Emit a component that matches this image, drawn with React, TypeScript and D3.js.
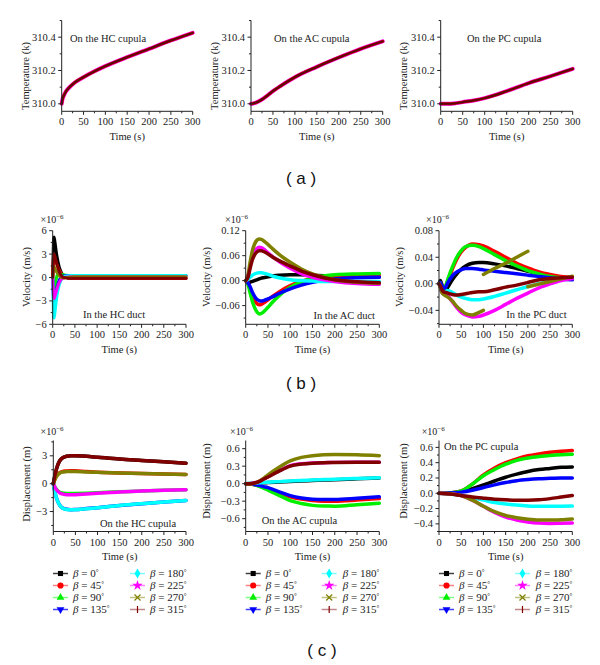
import React from 'react';
import * as d3 from 'd3';

// ---------- DATA ----------
const ANGLES = ['0', '45', '90', '135', '180', '225', '270', '315'];
const COLORS = ['#000000', '#ff0000', '#00ee00', '#0000ff', '#00ffff', '#ff00ff', '#808000', '#800000'];
const LEGEND_LINE = ['#404040', '#ff8080', '#80ff80', '#4040ff', '#80ffff', '#ff80ff', '#c0c080', '#c08888'];
const X_TICKS = [0, 50, 100, 150, 200, 250, 300];
const X_MINOR = [25, 75, 125, 175, 225, 275];

// (a) temperature
const tA = [0, 2, 5, 10, 20, 30, 50, 75, 100, 150, 200, 250, 300];
const tempHC = [310.0, 310.03, 310.05, 310.075, 310.105, 310.128, 310.16, 310.195, 310.226, 310.28, 310.33, 310.38, 310.426];
const tempAC = [310.0, 310.0, 310.002, 310.006, 310.018, 310.035, 310.076, 310.12, 310.16, 310.222, 310.278, 310.33, 310.375];
const tempPC = [310.0, 310.0, 310.0, 310.0, 310.0, 310.002, 310.01, 310.02, 310.034, 310.076, 310.124, 310.166, 310.21];

// (b) velocity, x1e-6
const tB1 = [0, 1, 2, 3, 5, 8, 10, 15, 20, 25, 30, 40, 50, 100, 200, 300];
const hcDuct = [
  [0, 3, 5.0, 5.2, 4.6, 3.3, 2.6, 1.3, 0.6, 0.2, 0.0, -0.1, -0.1, -0.1, -0.1, -0.1],
  [0, 1.5, 2.5, 2.6, 2.4, 1.9, 1.6, 0.9, 0.45, 0.15, 0.0, -0.08, -0.1, -0.1, -0.1, -0.1],
  [0, -0.8, -1.3, -1.4, -1.0, -0.2, 0.3, 0.45, 0.4, 0.35, 0.3, 0.25, 0.25, 0.25, 0.25, 0.25],
  [0, -1.8, -2.8, -3.0, -2.6, -1.7, -1.2, -0.3, 0.1, 0.2, 0.25, 0.25, 0.25, 0.25, 0.25, 0.25],
  [0, -3, -5.0, -5.2, -4.5, -3.0, -2.2, -0.9, -0.2, 0.1, 0.2, 0.25, 0.25, 0.25, 0.25, 0.25],
  [0, -1.5, -2.5, -2.7, -2.4, -1.8, -1.4, -0.6, -0.2, 0.0, 0.05, 0.1, 0.1, 0.1, 0.1, 0.1],
  [0, 0.8, 1.3, 1.4, 1.2, 0.8, 0.6, 0.2, 0.0, -0.05, 0.0, 0.05, 0.1, 0.1, 0.1, 0.1],
  [0, 1.8, 2.9, 3.0, 2.7, 2.0, 1.6, 0.7, 0.2, 0.0, -0.05, -0.1, -0.1, -0.1, -0.1, -0.1],
];
const tB2 = [0, 5, 10, 15, 20, 25, 30, 35, 40, 50, 60, 75, 100, 125, 150, 175, 200, 250, 300];
const acDuct = [
  [0, -0.005, -0.004, -0.002, 0, 0.002, 0.004, 0.006, 0.007, 0.009, 0.011, 0.013, 0.014, 0.014, 0.013, 0.012, 0.011, 0.01, 0.009],
  [0, -0.005, -0.02, -0.035, -0.047, -0.055, -0.058, -0.057, -0.054, -0.046, -0.038, -0.027, -0.012, -0.002, 0.005, 0.009, 0.012, 0.014, 0.015],
  [0, -0.008, -0.03, -0.05, -0.065, -0.075, -0.08, -0.079, -0.075, -0.064, -0.052, -0.036, -0.016, -0.003, 0.006, 0.011, 0.014, 0.016, 0.017],
  [0, -0.005, -0.015, -0.028, -0.038, -0.045, -0.048, -0.049, -0.048, -0.044, -0.039, -0.031, -0.02, -0.011, -0.004, 0.001, 0.004, 0.007, 0.008],
  [0, 0.003, 0.008, 0.013, 0.016, 0.018, 0.019, 0.019, 0.018, 0.015, 0.011, 0.007, 0.002, 0.0, -0.001, -0.002, -0.002, -0.002, -0.002],
  [0, 0.01, 0.035, 0.057, 0.07, 0.077, 0.08, 0.079, 0.076, 0.067, 0.058, 0.046, 0.03, 0.017, 0.008, 0.002, -0.002, -0.007, -0.009],
  [0, 0.012, 0.045, 0.072, 0.088, 0.097, 0.1, 0.099, 0.096, 0.087, 0.077, 0.063, 0.044, 0.028, 0.016, 0.008, 0.002, -0.004, -0.006],
  [0, 0.008, 0.03, 0.05, 0.062, 0.069, 0.072, 0.072, 0.07, 0.064, 0.057, 0.048, 0.035, 0.023, 0.014, 0.007, 0.002, -0.003, -0.005],
];
const tB3 = [0, 3, 6, 10, 15, 20, 30, 40, 50, 60, 75, 90, 100, 125, 150, 175, 200, 225, 250, 275, 300];
const pcDuct = [
  [0, 0.005, 0.0, -0.008, -0.01, -0.005, 0.006, 0.015, 0.022, 0.027, 0.031, 0.032, 0.032, 0.03, 0.027, 0.023, 0.019, 0.015, 0.012, 0.01, 0.008],
  [0, 0.002, -0.003, -0.008, -0.004, 0.005, 0.022, 0.037, 0.048, 0.055, 0.06, 0.059, 0.057, 0.049, 0.04, 0.031, 0.024, 0.018, 0.014, 0.011, 0.01],
  [0, 0.002, -0.003, -0.008, -0.003, 0.007, 0.025, 0.04, 0.05, 0.056, 0.058, 0.056, 0.053, 0.044, 0.035, 0.027, 0.02, 0.015, 0.011, 0.009, 0.008],
  [0, 0.002, -0.002, -0.008, -0.005, 0.002, 0.012, 0.018, 0.021, 0.023, 0.023, 0.022, 0.021, 0.019, 0.017, 0.015, 0.013, 0.011, 0.009, 0.007, 0.006],
  [0, -0.005, -0.012, -0.015, -0.012, -0.01, -0.013, -0.017, -0.02, -0.022, -0.024, -0.024, -0.023, -0.019, -0.014, -0.009, -0.004, 0.0, 0.004, 0.007, 0.009],
  [0, -0.005, -0.012, -0.015, -0.015, -0.018, -0.027, -0.036, -0.043, -0.047, -0.05, -0.049, -0.047, -0.04, -0.031, -0.022, -0.014, -0.006, 0.0, 0.005, 0.008],
  null,
  [0, -0.003, -0.008, -0.012, -0.013, -0.014, -0.016, -0.017, -0.016, -0.015, -0.013, -0.012, -0.012, -0.009, -0.005, -0.002, 0.002, 0.006, 0.008, 0.009, 0.01],
];
// the 270° curve in the PC duct is broken into three pieces
const tB3olive = [0, 3, 6, 10, 15, 20, 30, 40, 50, 60, 75, 90, 100, null, 100, 125, 150, 175, 200, null, 200, 225, 250, 275, 300];
const pcDuctOlive = [0, -0.005, -0.012, -0.016, -0.018, -0.02, -0.026, -0.034, -0.04, -0.045, -0.047, -0.043, -0.04, null, 0.014, 0.023, 0.031, 0.04, 0.049, null, -0.0045, -0.0005, 0.0035, 0.0075, 0.0115];

// (c) displacement, x1e-6
const tC1 = [0, 5, 10, 15, 20, 30, 40, 50, 75, 100, 150, 200, 250, 300];
const hcCup = [
  [0, 1.2, 2.0, 2.5, 2.75, 2.95, 3.0, 3.0, 2.95, 2.85, 2.65, 2.5, 2.35, 2.2],
  [0, 0.65, 1.0, 1.2, 1.3, 1.37, 1.4, 1.38, 1.3, 1.24, 1.15, 1.1, 1.05, 1.0],
  [0, -0.45, -0.75, -0.92, -1.0, -1.05, -1.06, -1.05, -1.02, -0.98, -0.88, -0.8, -0.72, -0.65],
  [0, -1.2, -1.9, -2.35, -2.6, -2.76, -2.8, -2.78, -2.68, -2.58, -2.35, -2.15, -1.97, -1.8],
  [0, -1.2, -1.9, -2.35, -2.6, -2.78, -2.82, -2.8, -2.7, -2.6, -2.35, -2.15, -1.97, -1.8],
  [0, -0.5, -0.8, -1.0, -1.1, -1.18, -1.2, -1.18, -1.1, -1.02, -0.9, -0.8, -0.72, -0.65],
  [0, 0.6, 0.95, 1.15, 1.25, 1.3, 1.32, 1.3, 1.27, 1.23, 1.15, 1.1, 1.05, 1.0],
  [0, 1.2, 2.0, 2.5, 2.75, 2.95, 3.0, 3.0, 2.95, 2.85, 2.65, 2.5, 2.35, 2.2],
];
const tC2 = [0, 10, 20, 30, 40, 50, 75, 100, 125, 150, 175, 200, 250, 300];
const acCup = [
  [0, 0.002, 0.006, 0.01, 0.014, 0.018, 0.027, 0.036, 0.045, 0.053, 0.061, 0.069, 0.083, 0.096],
  [0, -0.005, -0.018, -0.038, -0.06, -0.085, -0.16, -0.225, -0.265, -0.29, -0.3, -0.3, -0.28, -0.255],
  [0, -0.005, -0.02, -0.045, -0.075, -0.11, -0.2, -0.29, -0.34, -0.372, -0.384, -0.385, -0.36, -0.334],
  [0, -0.005, -0.015, -0.03, -0.05, -0.068, -0.14, -0.205, -0.245, -0.266, -0.27, -0.27, -0.25, -0.226],
  [0, 0.005, 0.01, 0.015, 0.02, 0.025, 0.035, 0.045, 0.055, 0.063, 0.07, 0.077, 0.089, 0.1],
  [0, 0.0, 0.015, 0.04, 0.08, 0.12, 0.22, 0.31, 0.34, 0.355, 0.36, 0.365, 0.367, 0.367],
  [0, -0.01, 0.01, 0.04, 0.09, 0.15, 0.28, 0.39, 0.45, 0.48, 0.495, 0.5, 0.495, 0.48],
  [0, 0.0, 0.012, 0.035, 0.075, 0.115, 0.215, 0.3, 0.335, 0.352, 0.36, 0.363, 0.366, 0.366],
];
const tC3 = [0, 25, 50, 75, 100, 125, 150, 175, 200, 225, 250, 275, 300];
const pcCup = [
  [0, 0.005, 0.02, 0.06, 0.11, 0.16, 0.21, 0.25, 0.285, 0.31, 0.325, 0.34, 0.345],
  [0, 0.005, 0.03, 0.12, 0.24, 0.33, 0.4, 0.45, 0.49, 0.515, 0.535, 0.55, 0.56],
  [0, 0.005, 0.03, 0.12, 0.23, 0.31, 0.38, 0.43, 0.46, 0.48, 0.495, 0.505, 0.51],
  [0, 0.003, 0.015, 0.04, 0.075, 0.11, 0.14, 0.165, 0.18, 0.19, 0.195, 0.2, 0.2],
  [0, -0.01, -0.03, -0.06, -0.09, -0.12, -0.14, -0.155, -0.165, -0.17, -0.17, -0.17, -0.168],
  [0, -0.005, -0.03, -0.09, -0.17, -0.25, -0.31, -0.35, -0.375, -0.39, -0.395, -0.392, -0.388],
  [0, -0.005, -0.03, -0.09, -0.17, -0.24, -0.29, -0.32, -0.34, -0.35, -0.35, -0.345, -0.335],
  [0, -0.01, -0.03, -0.05, -0.065, -0.078, -0.086, -0.09, -0.09, -0.085, -0.07, -0.05, -0.03],
];

// ---------- RENDERING ----------
const SERIF = 'Liberation Serif, DejaVu Serif, serif';
const SANS = 'Liberation Sans, DejaVu Sans, sans-serif';

type Series = { t: (number | null)[]; v: (number | null)[]; color: string; width: number };

function buildSeries(t: number[], sets: (number[] | null)[], width: number, extra?: Series): Series[] {
  const out: Series[] = [];
  sets.forEach((vals, i) => {
    if (vals) out.push({ t, v: vals, color: COLORS[i], width });
    else if (extra) out.push(extra);
  });
  return out;
}

interface PanelProps {
  x0: number; x1: number; yTop: number; yBot: number;
  yDomain: [number, number]; yTicks: number[]; yMinor: number[]; fmt: (n: number) => string;
  yLabel: string; yLabelX: number; yLabelCy: number;
  series: Series[];
  exp?: { x: number; y: number };
  note: { text: string; x: number; y: number; anchor?: string };
}

function Panel(p: PanelProps) {
  const xs = d3.scaleLinear().domain([0, 300]).range([p.x0, p.x1]);
  const ys = d3.scaleLinear().domain(p.yDomain).range([p.yBot, p.yTop]);
  const mk = (s: Series) => {
    const pts = s.t.map((t, i) => [t, s.v[i]] as [number | null, number | null]);
    return d3.line<[number | null, number | null]>()
      .defined(d => d[0] != null && d[1] != null)
      .x(d => xs(d[0] as number))
      .y(d => ys(d[1] as number))
      .curve(d3.curveMonotoneX)(pts) || '';
  };
  const axisColor = '#222';
  return (
    <g>
      <g fill="none" strokeLinejoin="round" strokeLinecap="round">
        {p.series.map((s, i) => (
          <path key={i} d={mk(s)} stroke={s.color} strokeWidth={s.width} />
        ))}
      </g>
      <g stroke={axisColor} strokeWidth={1}>
        <line x1={p.x0} x2={p.x1} y1={p.yBot} y2={p.yBot} />
        <line x1={p.x0} x2={p.x0} y1={p.yTop} y2={p.yBot} />
        {X_TICKS.map(t => <line key={'xt' + t} x1={xs(t)} x2={xs(t)} y1={p.yBot} y2={p.yBot + 3.5} />)}
        {X_MINOR.map(t => <line key={'xm' + t} x1={xs(t)} x2={xs(t)} y1={p.yBot} y2={p.yBot + 2} />)}
        {p.yTicks.map(t => <line key={'yt' + t} x1={p.x0 - 3.5} x2={p.x0} y1={ys(t)} y2={ys(t)} />)}
        {p.yMinor.map(t => <line key={'ym' + t} x1={p.x0 - 2} x2={p.x0} y1={ys(t)} y2={ys(t)} />)}
      </g>
      <g style={{ fontFamily: SERIF }} fontSize={10.5} fill="#222">
        {X_TICKS.map(t => (
          <text key={'xl' + t} x={xs(t)} y={p.yBot + 14} textAnchor="middle">{t}</text>
        ))}
        {p.yTicks.map(t => (
          <text key={'yl' + t} x={p.x0 - 6} y={ys(t) + 3.5} textAnchor="end">{p.fmt(t)}</text>
        ))}
        <text x={(p.x0 + p.x1) / 2} y={p.yBot + 28.5} textAnchor="middle">Time (s)</text>
        <text transform={`translate(${p.yLabelX},${p.yLabelCy}) rotate(-90)`} textAnchor="middle" dy="0.35em">{p.yLabel}</text>
        <text x={p.note.x} y={p.note.y} textAnchor={p.note.anchor || 'start'}>{p.note.text}</text>
        {p.exp && (
          <text x={p.exp.x} y={p.exp.y} fontSize={10}>×10<tspan dy={-4} fontSize={7}>−6</tspan></text>
        )}
      </g>
    </g>
  );
}

function Marker({ i, x, y }: { i: number; x: number; y: number }) {
  const c = COLORS[i];
  if (i === 6) {
    return <g stroke={c} strokeWidth={1.2}><line x1={x - 3} y1={y - 3} x2={x + 3} y2={y + 3} /><line x1={x - 3} y1={y + 3} x2={x + 3} y2={y - 3} /></g>;
  }
  if (i === 7) {
    return <line x1={x} x2={x} y1={y - 3.5} y2={y + 3.5} stroke={c} strokeWidth={1.2} />;
  }
  const types = [d3.symbolSquare, d3.symbolCircle, d3.symbolTriangle, d3.symbolTriangle, d3.symbolDiamond, d3.symbolStar];
  const sizes = [26, 30, 26, 26, 30, 34];
  const d = d3.symbol().type(types[i]).size(sizes[i])() || '';
  const rot = i === 3 ? ' rotate(180)' : '';
  return <path d={d} transform={`translate(${x},${y})${rot}`} fill={c} />;
}

function Legend({ l1, t1, l2, t2 }: { l1: number; t1: number; l2: number; t2: number }) {
  const rowY = [573.5, 585.5, 597.5, 609.5];
  return (
    <g style={{ fontFamily: SERIF }} fontSize={11} fill="#222">
      {ANGLES.map((a, i) => {
        const col = i < 4 ? 0 : 1;
        const y = rowY[i % 4];
        const lx = col === 0 ? l1 : l2;
        const tx = col === 0 ? t1 : t2;
        return (
          <g key={a}>
            <line x1={lx} x2={lx + 15} y1={y} y2={y} stroke={LEGEND_LINE[i]} strokeWidth={1.5} />
            <Marker i={i} x={lx + 7.5} y={y} />
            <text x={tx} y={y + 3.5}><tspan fontStyle="italic">β</tspan> = {a}<tspan fontSize={7} dy={-3}>°</tspan></text>
          </g>
        );
      })}
    </g>
  );
}

export default function App() {
  const fmt1 = d3.format('.1f');
  const fmt2 = d3.format('.2f');
  const fmtD = d3.format('d');
  const aDomain: [number, number] = [309.955, 310.5];
  const aTicks = [310.0, 310.2, 310.4];
  const aMinor = [310.1, 310.3, 310.5];
  const tempSeries = (vals: number[]): Series[] => [
    { t: tA, v: vals, color: '#ff00ff', width: 4 },
    { t: tA, v: vals, color: '#d00000', width: 3 },
    { t: tA, v: vals, color: '#5a0808', width: 2 },
  ];
  const rowA = { yTop: 20.5, yBot: 111.3 };
  const rowB = { yTop: 230.7, yBot: 324.3 };
  const rowC = { yTop: 440.5, yBot: 531.5 };

  return (
    <svg width={600} height={665} style={{ position: 'absolute', left: 0, top: 0, background: '#fff' }}>
      <rect width={600} height={665} fill="#fff" />
      {/* (a) */}
      <Panel x0={61.7} x1={192.7} {...rowA} yDomain={aDomain} yTicks={aTicks} yMinor={aMinor} fmt={fmt1}
        yLabel="Temperature (k)" yLabelX={25} yLabelCy={76} series={tempSeries(tempHC)}
        note={{ text: 'On the HC cupula', x: 70, y: 41.5 }} />
      <Panel x0={251} x1={382.7} {...rowA} yDomain={aDomain} yTicks={aTicks} yMinor={aMinor} fmt={fmt1}
        yLabel="Temperature (k)" yLabelX={214} yLabelCy={76} series={tempSeries(tempAC)}
        note={{ text: 'On the AC cupula', x: 274, y: 41.5 }} />
      <Panel x0={440.7} x1={572.7} {...rowA} yDomain={aDomain} yTicks={aTicks} yMinor={aMinor} fmt={fmt1}
        yLabel="Temperature (k)" yLabelX={403.5} yLabelCy={76} series={tempSeries(tempPC)}
        note={{ text: 'On the PC cupula', x: 467, y: 41.5 }} />
      <text x={301} y={184} textAnchor="middle" style={{ fontFamily: SANS }} fontSize={17} fill="#111">( a )</text>

      {/* (b) */}
      <Panel x0={52.7} x1={186} {...rowB} yDomain={[-6, 6]} yTicks={[-6, -3, 0, 3, 6]} yMinor={[-4.5, -1.5, 1.5, 4.5]} fmt={fmtD}
        yLabel="Velocity (m/s)" yLabelX={26} yLabelCy={277} series={buildSeries(tB1, hcDuct, 3)}
        exp={{ x: 40.5, y: 223 }}
        note={{ text: 'In the HC duct', x: 83, y: 318 }} />
      <Panel x0={245.7} x1={379.3} {...rowB} yDomain={[-0.105, 0.12]} yTicks={[-0.06, 0, 0.06, 0.12]} yMinor={[-0.09, -0.03, 0.03, 0.09]} fmt={fmt2}
        yLabel="Velocity (m/s)" yLabelX={206} yLabelCy={277} series={buildSeries(tB2, acDuct, 3.5)}
        exp={{ x: 225, y: 223 }}
        note={{ text: 'In the AC duct', x: 375, y: 319, anchor: 'end' }} />
      <Panel x0={439} x1={572.3} {...rowB} yDomain={[-0.061, 0.08]} yTicks={[-0.04, 0, 0.04, 0.08]} yMinor={[-0.06, -0.02, 0.02, 0.06]} fmt={fmt2}
        yLabel="Velocity (m/s)" yLabelX={399} yLabelCy={277}
        series={buildSeries(tB3, pcDuct, 3.5, { t: tB3olive, v: pcDuctOlive, color: COLORS[6], width: 3.5 })}
        exp={{ x: 426, y: 223 }}
        note={{ text: 'In the PC duct', x: 566.7, y: 318, anchor: 'end' }} />
      <text x={301} y={389} textAnchor="middle" style={{ fontFamily: SANS }} fontSize={17} fill="#111">( b )</text>

      {/* (c) */}
      <Panel x0={53.3} x1={186} {...rowC} yDomain={[-5.15, 4.65]} yTicks={[-3, 0, 3]} yMinor={[-4.5, -1.5, 1.5, 4.5]} fmt={fmtD}
        yLabel="Displacement (m)" yLabelX={26} yLabelCy={484} series={buildSeries(tC1, hcCup, 3.5)}
        exp={{ x: 40.5, y: 435 }}
        note={{ text: 'On the HC cupula', x: 100, y: 527 }} />
      <Panel x0={245.7} x1={379.3} {...rowC} yDomain={[-0.82, 0.74]} yTicks={[-0.6, -0.3, 0, 0.3, 0.6]} yMinor={[-0.75, -0.45, -0.15, 0.15, 0.45]} fmt={fmt1}
        yLabel="Displacement (m)" yLabelX={206} yLabelCy={481} series={buildSeries(tC2, acCup, 3.5)}
        exp={{ x: 230, y: 435 }}
        note={{ text: 'On the AC cupula', x: 261.7, y: 524 }} />
      <Panel x0={439} x1={572.3} {...rowC} yDomain={[-0.5, 0.69]} yTicks={[-0.4, -0.2, 0, 0.2, 0.4, 0.6]} yMinor={[-0.5, -0.3, -0.1, 0.1, 0.3, 0.5]} fmt={fmt1}
        yLabel="Displacement (m)" yLabelX={403} yLabelCy={481} series={buildSeries(tC3, pcCup, 3.5)}
        exp={{ x: 421.7, y: 435 }}
        note={{ text: 'On the PC cupula', x: 444, y: 450 }} />
      <Legend l1={53} t1={73} l2={130} t2={150} />
      <Legend l1={245.7} t1={265.7} l2={321.7} t2={342.7} />
      <Legend l1={439} t1={459} l2={515} t2={535.7} />
      <text x={322} y={656} textAnchor="middle" style={{ fontFamily: SANS }} fontSize={17} fill="#111">( c )</text>
    </svg>
  );
}
